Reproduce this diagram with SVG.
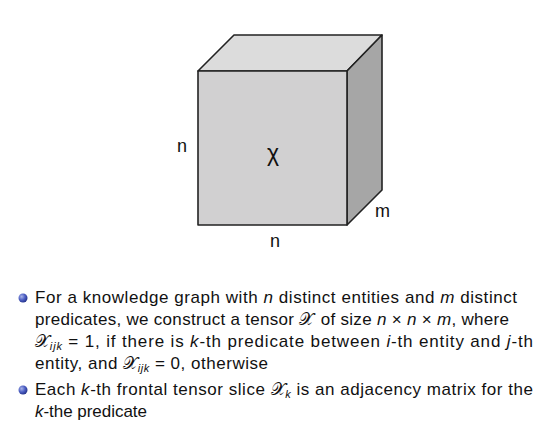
<svg xmlns="http://www.w3.org/2000/svg" width="546" height="429" viewBox="0 0 546 429">
<defs>
<radialGradient id="ball" cx="0.35" cy="0.35" r="0.75">
<stop offset="0" stop-color="#a9b4e8"/>
<stop offset="0.5" stop-color="#4d5fc4"/>
<stop offset="1" stop-color="#1c2a80"/>
</radialGradient>
<style>
.face{stroke:#222;stroke-width:1.6;stroke-linejoin:round}
.lbl{font-family:"Liberation Sans",Arial,sans-serif;font-size:18px;fill:#111}
.body{font-family:"Liberation Sans",Arial,sans-serif;font-size:17px;fill:#111}
.it{font-style:italic}
.cal{font-family:"DejaVu Sans","Noto Sans",serif;font-style:normal}
.sub{font-size:11px;font-style:italic}
</style>
</defs>
<rect width="546" height="429" fill="#fff"/>
<g id="cube">
<polygon class="face" points="198,71 234,35 382,35 347,71" fill="#dcdcdc"/>
<polygon class="face" points="347,71 382,35 382,190 347,225" fill="#a6a6a6"/>
<rect class="face" x="198" y="71" width="149" height="154" fill="#d1d0d1"/>
</g>
<g id="labels">
<text class="lbl" x="182" y="152" text-anchor="middle">n</text>
<text class="lbl" x="273" y="161" text-anchor="middle" style="font-size:23px">χ</text>
<text class="lbl" x="375" y="217">m</text>
<text class="lbl" x="275" y="247" text-anchor="middle">n</text>
</g>
<g id="bullets">
<circle cx="23" cy="298" r="4.5" fill="url(#ball)"/>
<circle cx="23" cy="390" r="4.5" fill="url(#ball)"/>
</g>
<g id="text" class="body">
<text x="35" y="303" textLength="482" lengthAdjust="spacing">For a knowledge graph with <tspan class="it">n</tspan> distinct entities and <tspan class="it">m</tspan> distinct</text>
<text x="35" y="325" textLength="474" lengthAdjust="spacing">predicates, we construct a tensor <tspan class="cal">𝒳</tspan><tspan dx="1"> of size </tspan><tspan class="it">n</tspan> × <tspan class="it">n</tspan> × <tspan class="it">m</tspan>, where</text>
<text x="35" y="347" textLength="498" lengthAdjust="spacing"><tspan class="cal">𝒳</tspan><tspan class="sub" dx="-1" dy="3">ijk</tspan><tspan dy="-3"> = 1, if there is </tspan><tspan class="it">k</tspan>-th predicate between <tspan class="it">i</tspan>-th entity and <tspan class="it">j</tspan>-th</text>
<text x="35" y="369" textLength="233" lengthAdjust="spacing">entity, and <tspan class="cal">𝒳</tspan><tspan class="sub" dx="-1" dy="3">ijk</tspan><tspan dy="-3"> = 0, otherwise</tspan></text>
<text x="35" y="395" textLength="498" lengthAdjust="spacing">Each <tspan class="it">k</tspan>-th frontal tensor slice <tspan class="cal">𝒳</tspan><tspan class="sub" dx="-1" dy="3">k</tspan><tspan dy="-3"> is an adjacency matrix for the</tspan></text>
<text x="35" y="417" textLength="112" lengthAdjust="spacing"><tspan class="it">k</tspan>-the predicate</text>
</g>
</svg>
